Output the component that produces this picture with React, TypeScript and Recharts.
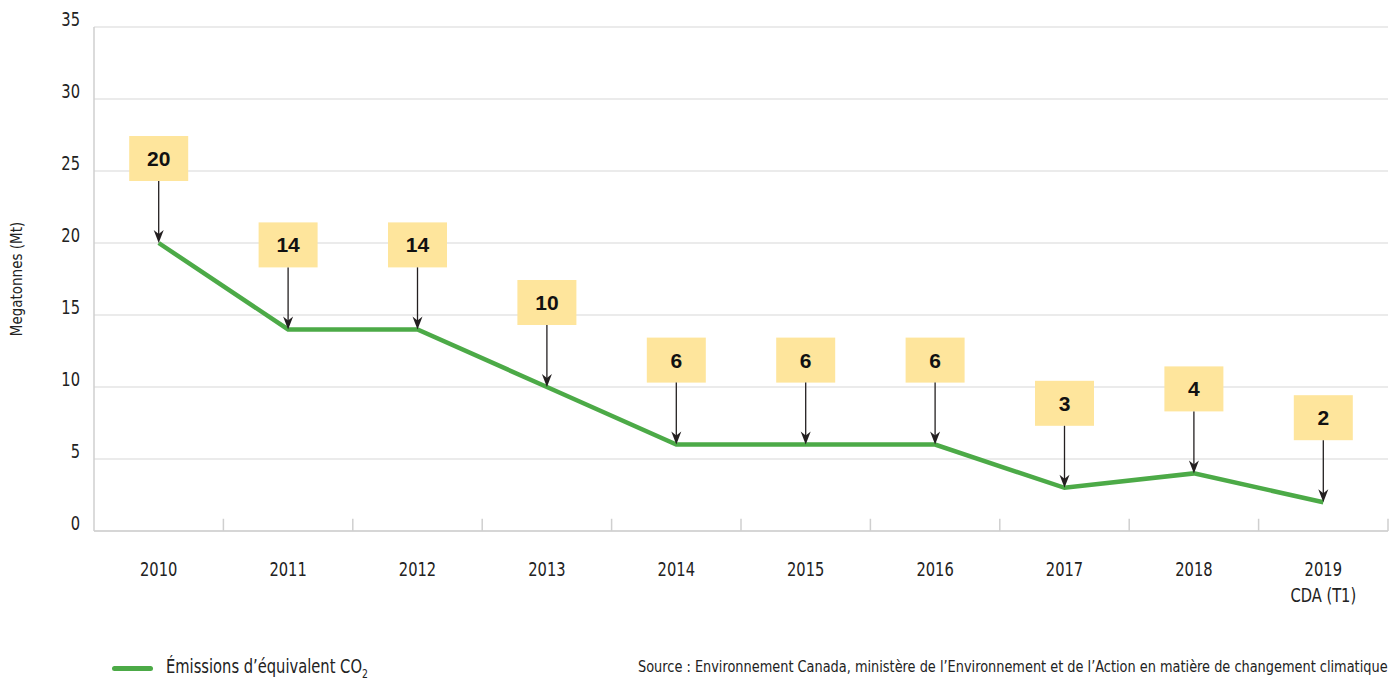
import { CartesianGrid, LabelList, Line, LineChart, ReferenceLine, XAxis, YAxis } from "recharts";

const years = ["2010", "2011", "2012", "2013", "2014", "2015", "2016", "2017", "2018", "2019"];
const subLabels = ["", "", "", "", "", "", "", "", "", "CDA (T1)"];
const emissions = [20, 14, 14, 10, 6, 6, 6, 3, 4, 2];
const yTicks = [0, 5, 10, 15, 20, 25, 30, 35];
const boundaries = [1, 2, 3, 4, 5, 6, 7, 8, 9, 10];

// slot = centre of each category on the 0..10 helper axis used for the boundary ticks
const data = years.map((y, i) => ({ year: y, slot: i + 0.5, value: emissions[i] }));

const FONT = "'DejaVu Sans Condensed', 'DejaVu Sans', sans-serif";
const GREEN = "#4caa47";
const SQUEEZE = 0.86;

function YTick({ x, y, payload }: any) {
  return (
    <text
      transform={`translate(${x},${y}) scale(${SQUEEZE},1)`}
      dy={-1}
      textAnchor="end"
      fontFamily={FONT}
      fontSize={19}
      fill="#222"
    >
      {payload.value}
    </text>
  );
}

function XTick({ x, y, payload, index }: any) {
  const sub = subLabels[index];
  return (
    <g>
      <text
        transform={`translate(${x},${y + 37}) scale(${SQUEEZE},1)`}
        textAnchor="middle"
        fontFamily={FONT}
        fontSize={19}
        fill="#222"
      >
        {payload.value}
      </text>
      {sub ? (
        <text
          transform={`translate(${x},${y + 63}) scale(${SQUEEZE},1)`}
          textAnchor="middle"
          fontFamily={FONT}
          fontSize={19}
          fill="#222"
        >
          {sub}
        </text>
      ) : null}
    </g>
  );
}

function ArrowLabel({ x, y, value }: any) {
  const boxBottom = y - 62;
  return (
    <g>
      <rect x={x - 29.5} y={boxBottom - 45} width={59} height={45} fill="#fee59c" />
      <text
        x={x}
        y={boxBottom - 15}
        textAnchor="middle"
        fontFamily="'Liberation Sans', Arial, sans-serif"
        fontWeight="bold"
        fontSize={21}
        fill="#111"
      >
        {value}
      </text>
      <line x1={x} y1={boxBottom} x2={x} y2={y - 6} stroke="#231f20" strokeWidth={1.3} />
      <polygon points={`${x},${y} ${x - 5},${y - 13} ${x},${y - 9} ${x + 5},${y - 13}`} fill="#231f20" />
    </g>
  );
}

export default function App() {
  return (
    <div style={{ position: "absolute", left: 0, top: 0, width: 1392, height: 683, background: "#fff" }}>
      <LineChart width={1392} height={683} data={data} margin={{ top: 27, right: 4, bottom: 92, left: 0 }}>
        <CartesianGrid vertical={false} stroke="#d8d8d8" strokeWidth={1.2} />
        <XAxis
          dataKey="year"
          scale="band"
          height={60}
          tickLine={false}
          axisLine={{ stroke: "#cfcfcf", strokeWidth: 1.5 }}
          tick={<XTick />}
          interval={0}
        />
        <XAxis xAxisId="b" dataKey="slot" type="number" domain={[0, 10]} allowDataOverflow hide />
        <YAxis
          width={94}
          domain={[0, 35]}
          ticks={yTicks}
          tickLine={false}
          tickMargin={8}
          axisLine={{ stroke: "#cfcfcf", strokeWidth: 1.5 }}
          tick={<YTick />}
          label={{
            value: "Megatonnes (Mt)",
            angle: -90,
            position: "insideLeft",
            dx: 12,
            style: { fontFamily: FONT, fontSize: 15, fill: "#222", textAnchor: "middle" },
          }}
        />
        {boundaries.map((b) => (
          <ReferenceLine
            key={b}
            xAxisId="b"
            segment={[
              { x: b, y: 0 },
              { x: b, y: 0.85 },
            ]}
            stroke="#cfcfcf"
            strokeWidth={1.5}
          />
        ))}
        <Line
          dataKey="value"
          stroke={GREEN}
          strokeWidth={4.5}
          dot={false}
          activeDot={false}
          isAnimationActive={false}
        >
          <LabelList dataKey="value" content={<ArrowLabel />} />
        </Line>
      </LineChart>
      <div style={{ position: "absolute", left: 112, top: 666, width: 41, height: 5, background: GREEN, borderRadius: 3 }} />
      <div
        style={{
          position: "absolute",
          left: 166,
          top: 655,
          fontFamily: FONT,
          fontSize: 19,
          color: "#222",
          whiteSpace: "nowrap",
          transform: `scaleX(${SQUEEZE})`,
          transformOrigin: "left center",
        }}
      >
        Émissions d’équivalent CO<sub style={{ fontSize: 12 }}>2</sub>
      </div>
      <div
        style={{
          position: "absolute",
          right: 4,
          top: 657,
          fontFamily: FONT,
          fontSize: 16.5,
          color: "#222",
          whiteSpace: "nowrap",
          transform: "scaleX(0.87)",
          transformOrigin: "right center",
        }}
      >
        Source : Environnement Canada, ministère de l’Environnement et de l’Action en matière de changement climatique
      </div>
    </div>
  );
}
